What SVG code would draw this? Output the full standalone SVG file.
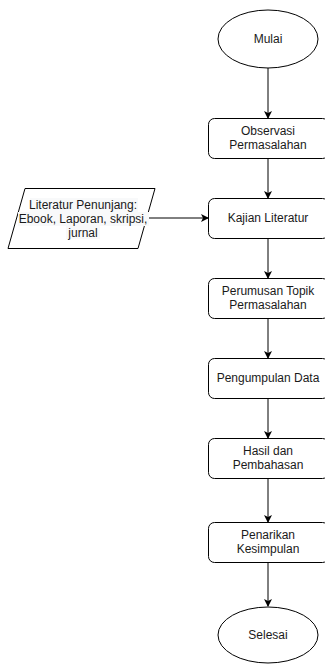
<svg xmlns="http://www.w3.org/2000/svg" width="325" height="664" viewBox="0 0 325 664">
<defs>
<marker id="arr" markerWidth="8" markerHeight="8" refX="7" refY="4" orient="auto" markerUnits="userSpaceOnUse">
<path d="M0,0 L8,4 L0,8 L2,4 Z" fill="#000"/>
</marker>
<style>
.shape{fill:#fff;stroke:#000;stroke-width:1}
.t{font-family:"Liberation Sans",Arial,sans-serif;font-size:12px;fill:#1a1a1a;text-anchor:middle}
.c{stroke:#000;stroke-width:1;fill:none;marker-end:url(#arr)}
</style>
</defs>
<rect width="325" height="664" fill="#fff"/>
<g id="connectors">
<line class="c" x1="268" y1="68" x2="268" y2="118"/>
<line class="c" x1="268" y1="158" x2="268" y2="198"/>
<line class="c" x1="147" y1="218" x2="208" y2="218"/>
<line class="c" x1="268" y1="238" x2="268" y2="278"/>
<line class="c" x1="268" y1="318" x2="268" y2="358"/>
<line class="c" x1="268" y1="398" x2="268" y2="438"/>
<line class="c" x1="268" y1="478" x2="268" y2="522"/>
<line class="c" x1="268" y1="562" x2="268" y2="606"/>
</g>
<g id="mulai">
<ellipse class="shape" cx="268" cy="39" rx="50" ry="29" stroke-width="1.5"/>
<text class="t" x="268" y="43">Mulai</text>
</g>
<g id="observasi">
<rect class="shape" x="208.5" y="118.5" width="120" height="40" rx="6"/>
<text class="t" x="268" y="135">Observasi</text>
<text class="t" x="268" y="149">Permasalahan</text>
</g>
<g id="literatur">
<polygon class="shape" points="25,188.5 155,188.5 138,248.5 8,248.5"/>
<rect x="18" y="212" width="131" height="14" fill="#f8f9fa"/>
<rect x="30" y="198" width="108" height="14" fill="#f8f9fa"/>
<rect x="66" y="226" width="34" height="13" fill="#f8f9fa"/>
<text class="t" x="83" y="209">Literatur Penunjang:</text>
<text class="t" x="83" y="223">Ebook, Laporan, skripsi,</text>
<text class="t" x="83" y="237">jurnal</text>
</g>
<g id="kajian">
<rect class="shape" x="208.5" y="198.5" width="120" height="40" rx="6"/>
<text class="t" x="268" y="222">Kajian Literatur</text>
</g>
<g id="perumusan">
<rect class="shape" x="208.5" y="278.5" width="120" height="40" rx="6"/>
<text class="t" x="268" y="295">Perumusan Topik</text>
<text class="t" x="268" y="309">Permasalahan</text>
</g>
<g id="pengumpulan">
<rect class="shape" x="208.5" y="358.5" width="120" height="40" rx="6"/>
<text class="t" x="268" y="382">Pengumpulan Data</text>
</g>
<g id="hasil">
<rect class="shape" x="208.5" y="438.5" width="120" height="40" rx="6"/>
<text class="t" x="268" y="455">Hasil dan</text>
<text class="t" x="268" y="469">Pembahasan</text>
</g>
<g id="penarikan">
<rect class="shape" x="208.5" y="522.5" width="120" height="40" rx="6"/>
<text class="t" x="268" y="539">Penarikan</text>
<text class="t" x="268" y="553">Kesimpulan</text>
</g>
<g id="selesai">
<ellipse class="shape" cx="268" cy="635" rx="50" ry="28" stroke-width="1.5"/>
<text class="t" x="268" y="639">Selesai</text>
</g>
</svg>
